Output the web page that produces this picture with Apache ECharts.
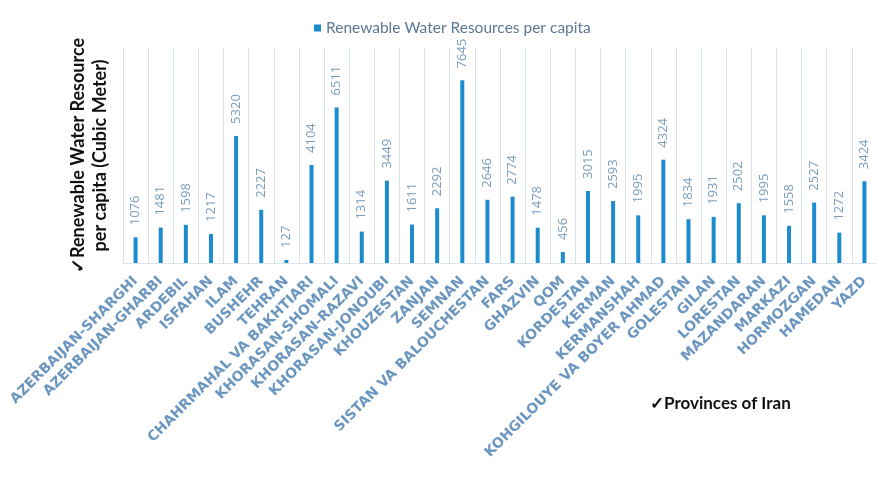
<!DOCTYPE html>
<html>
<head>
<meta charset="utf-8">
<script src="https://cdn.jsdelivr.net/npm/echarts@6/dist/echarts.min.js"></script>
<style>html,body{margin:0;padding:0;background:#fff}#c{width:877px;height:477px}</style>
</head>
<body>
<div id="c"></div>
<script>
const provinces = ["AZERBAIJAN-SHARGHI","AZERBAIJAN-GHARBI","ARDEBIL","ISFAHAN","ILAM","BUSHEHR","TEHRAN","CHAHRMAHAL VA BAKHTIARI","KHORASAN-SHOMALI","KHORASAN-RAZAVI","KHORASAN-JONOUBI","KHOUZESTAN","ZANJAN","SEMNAN","SISTAN VA BALOUCHESTAN","FARS","GHAZVIN","QOM","KORDESTAN","KERMAN","KERMANSHAH","KOHGILOUYE VA BOYER AHMAD","GOLESTAN","GILAN","LORESTAN","MAZANDARAN","MARKAZI","HORMOZGAN","HAMEDAN","YAZD"];
const waterPerCapita = [1076,1481,1598,1217,5320,2227,127,4104,6511,1314,3449,1611,2292,7645,2646,2774,1478,456,3015,2593,1995,4324,1834,1931,2502,1995,1558,2527,1272,3424];
const seriesName = "Renewable Water Resources per capita";
const yTitle = "\u2713Renewable Water Resource\nper capita (Cubic Meter)";
const xTitle = "\u2713Provinces of Iran";

const chart = echarts.init(document.getElementById('c'), null, {renderer:'canvas'});
chart.setOption({
  animation:false,
  backgroundColor:'#fff',
  legend:{
    data:[seriesName], top:15, left:309, itemWidth:7, itemHeight:7, itemGap:5,
    icon:'rect',
    textStyle:{color:'#5a7896', fontSize:15.5, fontFamily:'Lato'}
  },
  grid:{left:123, right:-5, top:48, bottom:214, containLabel:false},
  xAxis:{
    type:'category', data:provinces,
    axisLine:{show:true, lineStyle:{color:'#dde6ef', width:1}},
    axisTick:{show:false},
    splitLine:{show:true, lineStyle:{color:'#d6e2ee', width:1}},
    axisLabel:{interval:0, rotate:45, color:'#6b96bf', fontSize:14, fontWeight:'bold', fontFamily:'DejaVu Sans, sans-serif', margin:16}
  },
  yAxis:{
    type:'value', min:0, max:9000,
    name:yTitle, nameLocation:'middle', nameGap:12, nameRotate:90,
    nameTextStyle:{color:'#111', fontSize:18, fontWeight:'bold', fontFamily:'Lato', lineHeight:22},
    axisLabel:{show:false}, axisLine:{show:false}, axisTick:{show:false}, splitLine:{show:false}
  },
  graphic:[{
    type:'text', left:650, top:395,
    style:{text:xTitle, fill:'#111', font:'bold 17px Lato'}
  }],
  series:[{
    name:seriesName, type:'bar', data:waterPerCapita, barWidth:4,
    itemStyle:{color:'#1c8ccd'},
    label:{show:true, position:'top', rotate:90, align:'left', verticalAlign:'middle', distance:12,
      color:'#7a9cbd', fontSize:13, fontFamily:'Open Sans'}
  }]
});
</script>
</body>
</html>
